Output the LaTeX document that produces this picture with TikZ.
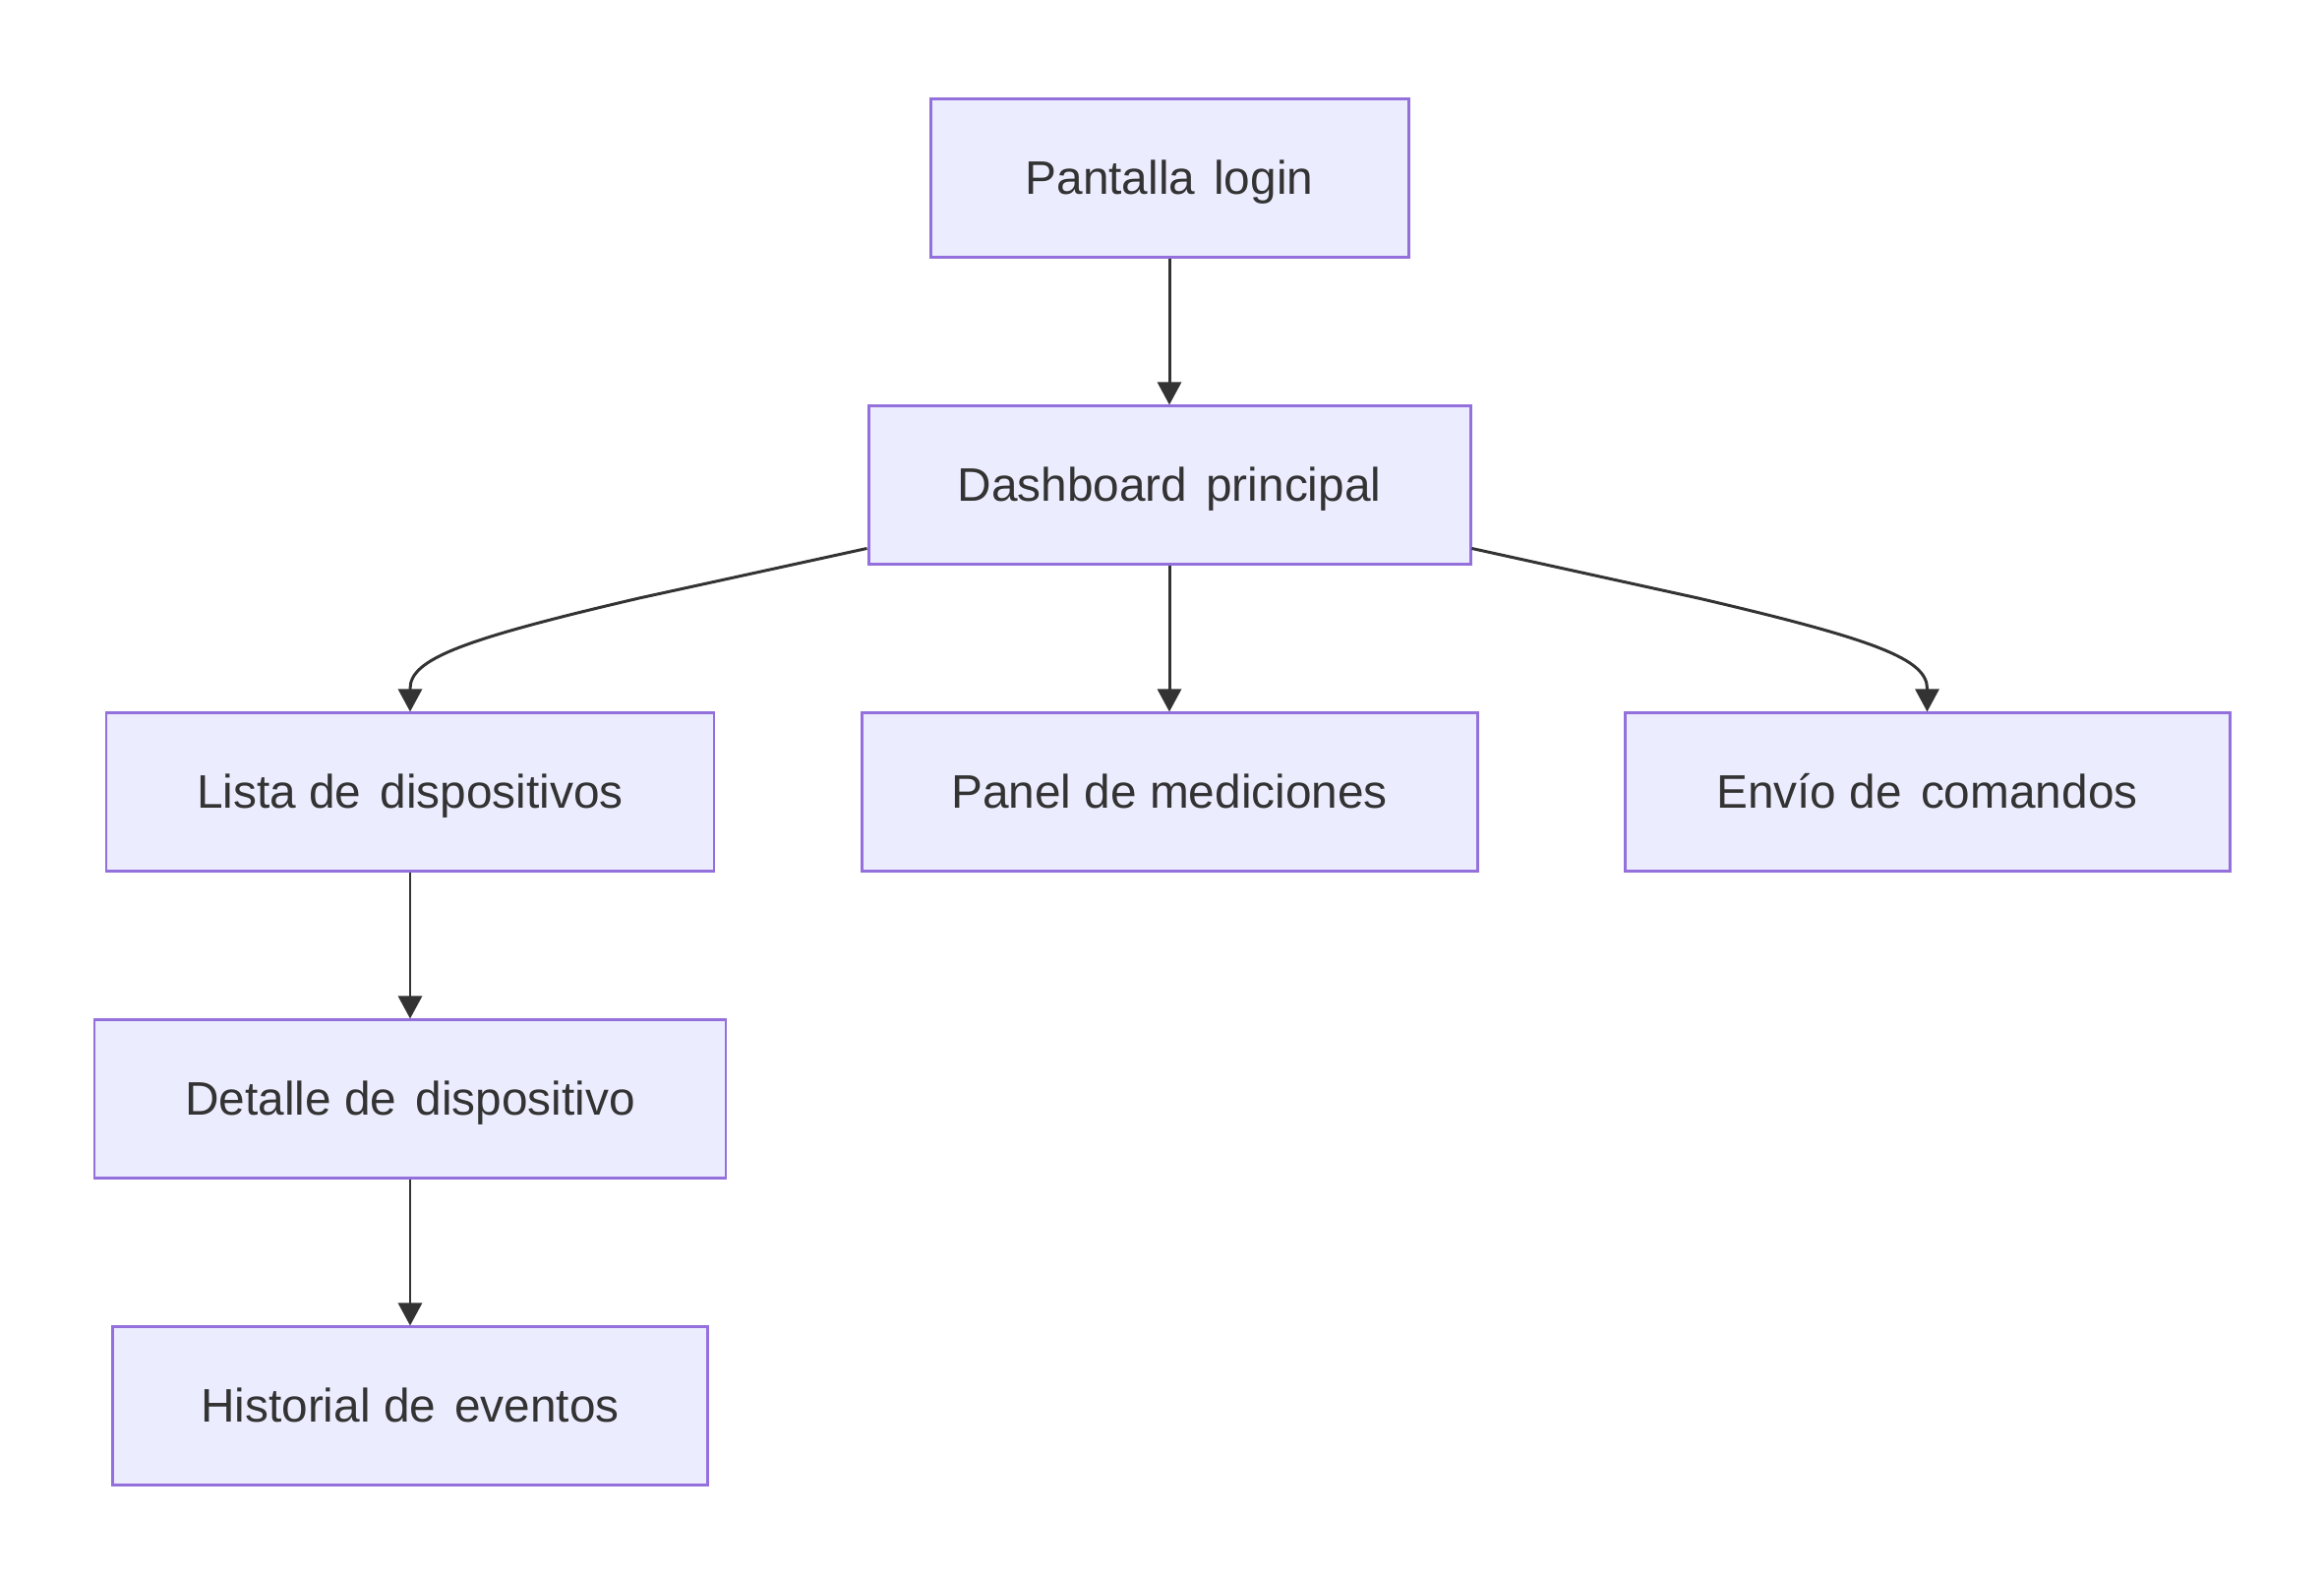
\documentclass[tikz,border=0pt]{standalone}
\usepackage{fontspec}
\setmainfont{Liberation Sans}
\usepackage{xcolor}
\usepackage{tikz}
\usetikzlibrary{arrows.meta,calc,positioning}
\definecolor{boxfill}{HTML}{ECECFF}
\definecolor{boxline}{HTML}{9370DB}
\definecolor{ink}{HTML}{333333}
\newcommand{\wgap}{\hspace{0.4em}}

\begin{document}
\begin{tikzpicture}
	\tikzstyle{every node} = [rectangle, draw = boxline, fill = boxfill, line width = 0.85pt, text = ink, minimum height = 1.61cm, text height = 0.9em, text depth = 0pt, font = \fontsize{13.6pt}{16pt}\selectfont]
	\tikzstyle{arr} = [draw = ink, line width = 0.85pt, -{Triangle[length = 0.23cm, width = 0.24cm]}]
\useasboundingbox (0,0) rectangle (23.63,16.03);
\node[minimum width = 4.86cm] (login) at (11.89, 14.215) {Pantalla\wgap login};
\node[minimum width = 6.12cm] (dash) at (11.89, 11.095) {Dashboard\wgap principal};
\node[minimum width = 6.18cm] (lista) at (4.17, 7.975) {Lista de\wgap dispositivos};
\node[minimum width = 6.26cm] (panel) at (11.89, 7.975) {Panel de mediciones};
\node[minimum width = 6.15cm] (envio) at (19.595, 7.975) {Envío de\wgap comandos};
\node[minimum width = 6.42cm] (detalle) at (4.17, 4.855) {Detalle de\wgap dispositivo};
\node[minimum width = 6.05cm] (hist) at (4.17, 1.735) {Historial de\wgap eventos};
	\path[arr] (login) -- (dash);
	\path[arr] (dash) -- (panel);
	\path[arr] ($(dash.south west)+(0,0.18)$) -- (6.50, 9.95) .. controls (4.70, 9.53) and (4.17, 9.33) .. (4.17, 9.03) -- (lista.north);
	\path[arr] ($(dash.south east)+(0,0.18)$) -- (17.265, 9.95) .. controls (19.065, 9.53) and (19.595, 9.33) .. (19.595, 9.03) -- (envio.north);
	\path[arr] (lista) -- (detalle);
	\path[arr] (detalle) -- (hist);
	\end{tikzpicture}
\end{document}
